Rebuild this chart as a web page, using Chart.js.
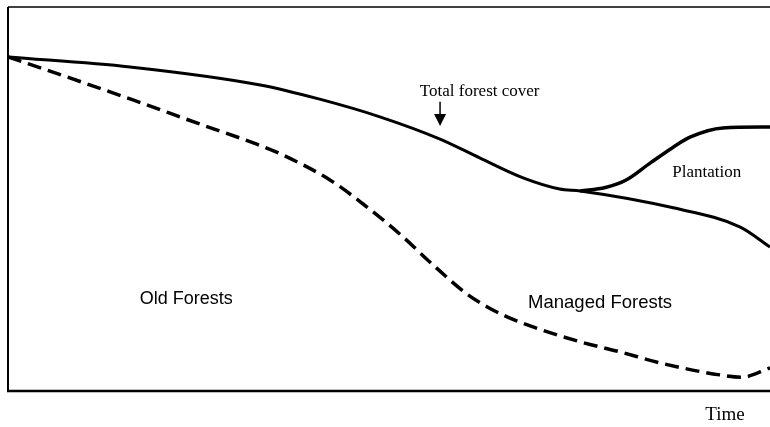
<!DOCTYPE html>
<html>
<head>
<meta charset="utf-8">
<script src="https://cdn.jsdelivr.net/npm/chart.js@4"></script>
<style>
  html, body { margin: 0; padding: 0; background: #fff; }
  #wrap { width: 770px; height: 427px; }
</style>
</head>
<body>
<div id="wrap"><canvas id="forestChart" width="770" height="427"></canvas></div>
<script>
// --- Data (time and forest area, arbitrary units 0-100) ---
const totalTime = [0, 16.0, 33.1, 40.9, 48.8, 56.7, 61.9, 67.6, 72.4, 75.1, 87.3, 96.1, 100];
const naturalCover = [87.0, 84.4, 79.7, 76.0, 71.4, 65.6, 60.7, 55.5, 52.6, 52.1, 47.7, 42.7, 37.5];

const plantTime = [75.1, 78.4, 81.0, 84.3, 87.3, 89.5, 93.8, 100];
const plantCover = [52.1, 53.0, 54.8, 59.4, 63.5, 66.1, 68.5, 68.75];

const oldTime = [0, 7.7, 16.4, 25.2, 32.2, 35.7, 42.3, 46.6, 51.4, 55.8, 60.2, 62.9, 65.5, 68.9, 75.1, 80.3, 85.6, 93.4, 96.3, 100];
const oldCover = [87.0, 81.8, 75.8, 69.5, 64.6, 61.8, 54.9, 48.7, 40.9, 32.8, 25.3, 21.9, 19.3, 16.7, 12.8, 10.2, 7.3, 4.2, 3.6, 6.0];

// text placed in data units
const notes = [
  { text: 'Total forest cover', x: 61.9, y: 77.9, font: '17px "Liberation Serif"' },
  { text: 'Plantation', x: 91.7, y: 57.0, font: '17px "Liberation Serif"' },
  { text: 'Old Forests', x: 23.4, y: 24.0, font: '18px "Liberation Sans"' },
  { text: 'Managed Forests', x: 77.7, y: 22.9, font: '18.5px "Liberation Sans"' },
  { text: 'Time', x: 94.1, y: -6.3, font: '19px "Liberation Serif"' }
];
const arrow = { x: 56.7, from: 75.3, to: 69.0 };

const toPoints = (xs, ys) => xs.map((x, i) => ({ x, y: ys[i] }));

// frame, labels and arrow
const decorations = {
  id: 'decorations',
  afterDatasetsDraw(chart) {
    const { ctx, chartArea: a, scales: { x, y } } = chart;
    ctx.save();
    ctx.strokeStyle = '#000';
    ctx.lineCap = 'butt';

    ctx.lineWidth = 1.5;
    ctx.beginPath();
    ctx.moveTo(a.right, a.top);
    ctx.lineTo(a.left, a.top);
    ctx.stroke();

    ctx.lineWidth = 2;
    ctx.beginPath();
    ctx.moveTo(a.left, a.top);
    ctx.lineTo(a.left, a.bottom);
    ctx.stroke();

    ctx.lineWidth = 2.5;
    ctx.beginPath();
    ctx.moveTo(a.left - 1, a.bottom);
    ctx.lineTo(a.right, a.bottom);
    ctx.stroke();

    ctx.fillStyle = '#000';
    ctx.textAlign = 'center';
    ctx.textBaseline = 'middle';
    notes.forEach(n => {
      ctx.font = n.font;
      ctx.fillText(n.text, x.getPixelForValue(n.x), y.getPixelForValue(n.y));
    });

    const ax = x.getPixelForValue(arrow.x);
    const top = y.getPixelForValue(arrow.from);
    const tip = y.getPixelForValue(arrow.to);
    ctx.lineWidth = 1.5;
    ctx.beginPath();
    ctx.moveTo(ax, top);
    ctx.lineTo(ax, tip - 10);
    ctx.stroke();
    ctx.beginPath();
    ctx.moveTo(ax - 6, tip - 12);
    ctx.lineTo(ax + 6, tip - 12);
    ctx.lineTo(ax, tip);
    ctx.closePath();
    ctx.fill();
    ctx.restore();
  }
};

new Chart(document.getElementById('forestChart'), {
  type: 'scatter',
  data: {
    datasets: [
      {
        label: 'Natural forest',
        data: toPoints(totalTime, naturalCover),
        showLine: true,
        borderColor: '#000',
        borderWidth: 3,
        pointRadius: 0,
        cubicInterpolationMode: 'monotone'
      },
      {
        label: 'Plantation',
        data: toPoints(plantTime, plantCover),
        showLine: true,
        borderColor: '#000',
        borderWidth: 3.5,
        pointRadius: 0,
        cubicInterpolationMode: 'monotone'
      },
      {
        label: 'Old forests',
        data: toPoints(oldTime, oldCover),
        showLine: true,
        borderColor: '#000',
        borderWidth: 3.5,
        borderDash: [14, 7],
        pointRadius: 0,
        cubicInterpolationMode: 'monotone'
      }
    ]
  },
  options: {
    responsive: false,
    animation: false,
    layout: { padding: { left: 8, top: 7, right: 0, bottom: 36 } },
    plugins: { legend: { display: false }, tooltip: { enabled: false } },
    scales: {
      x: { type: 'linear', min: 0, max: 100, display: false },
      y: { type: 'linear', min: 0, max: 100, display: false }
    }
  },
  plugins: [decorations]
});
</script>
</body>
</html>
